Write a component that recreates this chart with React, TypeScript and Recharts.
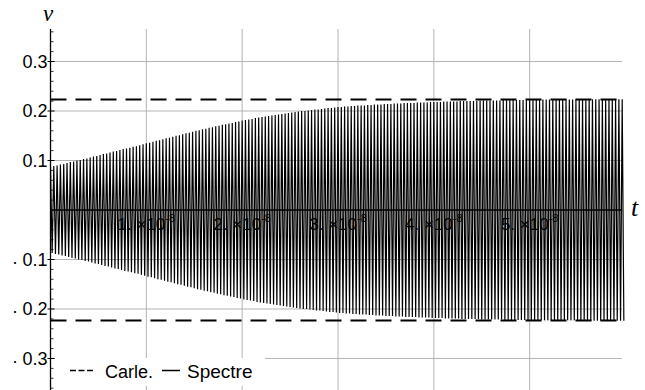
import React from 'react';
import { LineChart, Line, XAxis, YAxis, ReferenceLine, ReferenceDot, Legend } from 'recharts';

// time unit of the x axis (s) and carrier cycles per unit
const T_UNIT = 1e-8;
const CYCLES_PER_UNIT = 29;

// peak amplitude of each carrier cycle of "Spectre" (one row per 1e-8 s)
const spectreAmplitude = [
  0.087, 0.089, 0.090, 0.092, 0.093, 0.095, 0.097, 0.098, 0.100, 0.101, 0.103, 0.104, 0.106, 0.108, 0.109,
  0.111, 0.113, 0.114, 0.116, 0.118, 0.119, 0.121, 0.123, 0.124, 0.126, 0.128, 0.129, 0.131, 0.133,
  0.135, 0.136, 0.138, 0.140, 0.141, 0.143, 0.145, 0.146, 0.148, 0.150, 0.151, 0.153, 0.155, 0.156, 0.158,
  0.160, 0.161, 0.163, 0.164, 0.166, 0.167, 0.169, 0.170, 0.172, 0.173, 0.175, 0.176, 0.178, 0.179,
  0.181, 0.182, 0.183, 0.184, 0.186, 0.187, 0.188, 0.189, 0.190, 0.191, 0.192, 0.193, 0.194, 0.195, 0.196,
  0.197, 0.198, 0.199, 0.200, 0.200, 0.201, 0.202, 0.203, 0.203, 0.204, 0.205, 0.206, 0.206, 0.207,
  0.208, 0.208, 0.209, 0.209, 0.210, 0.210, 0.211, 0.211, 0.211, 0.212, 0.212, 0.213, 0.213, 0.213, 0.214,
  0.214, 0.214, 0.215, 0.215, 0.215, 0.216, 0.216, 0.216, 0.216, 0.217, 0.217, 0.217, 0.217, 0.218,
  0.218, 0.218, 0.218, 0.219, 0.219, 0.219, 0.219, 0.219, 0.220, 0.220, 0.220, 0.220, 0.220, 0.220, 0.221,
  0.221, 0.221, 0.221, 0.221, 0.221, 0.221, 0.222, 0.222, 0.222, 0.222, 0.222, 0.222, 0.222, 0.222,
  0.222, 0.222, 0.222, 0.223, 0.223, 0.223, 0.223, 0.223, 0.223, 0.223, 0.223, 0.223, 0.223, 0.223, 0.223,
  0.224, 0.224, 0.224, 0.224, 0.224, 0.224, 0.224, 0.224, 0.224, 0.224, 0.224, 0.224, 0.224, 0.224,
];

// "Carle." bound (±)
const carleLevel = 0.2235;

const seriesNames = ['Carle.', 'Spectre'];

const xEnd = 6e-8;
const gridEnd = 5.965e-8;
const yLimit = 0.3657;

const xMajorTicks = [1e-8, 2e-8, 3e-8, 4e-8, 5e-8];
const xTickMantissa = ['1.', '2.', '3.', '4.', '5.'];
const xTickExponent = '-8';

const yMajorTicks = [0.3, 0.2, 0.1, -0.1, -0.2, -0.3];
const yTickLabels = ['0.3', '0.2', '0.1', '-0.1', '-0.2', '-0.3'];
const yAllTicks = [
  0.36, 0.34, 0.32, 0.3, 0.28, 0.26, 0.24, 0.22, 0.2, 0.18, 0.16, 0.14, 0.12, 0.1, 0.08, 0.06, 0.04, 0.02,
  -0.02, -0.04, -0.06, -0.08, -0.1, -0.12, -0.14, -0.16, -0.18, -0.2, -0.22, -0.24, -0.26, -0.28, -0.3,
  -0.32, -0.34, -0.36,
];

const period = T_UNIT / CYCLES_PER_UNIT;
const spectreData = spectreAmplitude.flatMap((a, i) => [
  { t: i * period, v: a },
  { t: (i + 0.5) * period, v: -a },
]);
const carleUpper = [
  { t: 0, v: carleLevel },
  { t: xEnd, v: carleLevel },
];
const carleLower = [
  { t: 0, v: -carleLevel },
  { t: xEnd, v: -carleLevel },
];

const SANS = '"Liberation Sans", Arial, Helvetica, sans-serif';
const SERIF = '"Liberation Serif", "Times New Roman", serif';
const GRID = '#b4b4b4';

const YTick = (props: any) => {
  const { x, y, payload } = props;
  const v = payload.value;
  const idx = yMajorTicks.findIndex((m) => Math.abs(m - v) < 1e-9);
  if (idx < 0) {
    return <line x1={x} x2={x + 3} y1={y} y2={y} stroke="#000" strokeWidth={0.8} />;
  }
  const label = yTickLabels[idx];
  const neg = label.startsWith('-');
  return (
    <g>
      <line x1={x - 3} x2={x + 4} y1={y} y2={y} stroke="#000" strokeWidth={1} />
      <text
        x={x - 3}
        y={y + 6.3}
        textAnchor="end"
        fontFamily={SANS}
        fontSize={18}
        fill="#000"
        style={{ whiteSpace: 'pre' }}
      >
        {neg ? (
          <>
            <tspan dy={-2}>.</tspan>
            <tspan dy={2}>{' ' + label.slice(1)}</tspan>
          </>
        ) : (
          label
        )}
      </text>
    </g>
  );
};

const makeXLabel = (idx: number) => (props: any) => {
  const vb = props.viewBox || {};
  const cx = vb.x;
  const cy = vb.y;
  return (
    <text
      x={cx}
      y={cy + 20}
      textAnchor="middle"
      fontFamily={SANS}
      fontSize={17}
      fill="#000"
      style={{ whiteSpace: 'pre' }}
    >
      {xTickMantissa[idx] + ' \u00d710'}
      <tspan dy={-8} fontSize={11}>
        {xTickExponent}
      </tspan>
    </text>
  );
};

const vLabel = (props: any) => {
  const vb = props.viewBox || {};
  return (
    <text x={vb.x - 2.5} y={vb.y - 8} textAnchor="middle" fontFamily={SERIF} fontStyle="italic" fontSize={23} fill="#000">
      v
    </text>
  );
};

const tLabel = (props: any) => {
  const vb = props.viewBox || {};
  return (
    <text x={vb.x + 9} y={vb.y + 6} textAnchor="middle" fontFamily={SERIF} fontStyle="italic" fontSize={26} fill="#000">
      t
    </text>
  );
};

const renderLegend = () => (
  <svg width={210} height={28} style={{ display: 'block', background: '#fff' }}>
    <line x1={15} x2={38} y1={12.5} y2={12.5} stroke="#000" strokeWidth={1.3} strokeDasharray="6 2.5" />
    <text x={50} y={20} fontFamily={SANS} fontSize={18} fill="#000">
      {seriesNames[0]}
    </text>
    <line x1={107} x2={125} y1={12.5} y2={12.5} stroke="#000" strokeWidth={1.5} />
    <text x={132} y={20} fontFamily={SANS} fontSize={19} fill="#000">
      {seriesNames[1]}
    </text>
  </svg>
);

export default function App() {
  return (
    <div style={{ position: 'absolute', left: 0, top: 0, width: 645, height: 390, overflow: 'hidden', background: '#fff' }}>
      <LineChart width={645} height={392} margin={{ top: 29, right: 19.5, bottom: 1, left: 0 }} data={spectreData}>
        <XAxis dataKey="t" type="number" domain={[0, xEnd]} hide allowDataOverflow />
        <YAxis
          type="number"
          domain={[-yLimit, yLimit]}
          ticks={yAllTicks}
          interval={0}
          width={50.5}
          tickSize={0}
          tickMargin={0}
          tickLine={false}
          axisLine={{ stroke: '#000', strokeWidth: 1.3 }}
          tick={<YTick />}
          allowDataOverflow
        />
        {yMajorTicks.map((v) => (
          <ReferenceLine
            key={'h' + v}
            segment={[
              { x: 0, y: v },
              { x: gridEnd, y: v },
            ]}
            stroke={GRID}
            strokeWidth={1}
          />
        ))}
        {xMajorTicks.map((m) => (
          <ReferenceLine key={'v' + m} x={m} stroke={GRID} strokeWidth={1} />
        ))}
        <Line
          dataKey="v"
          name={seriesNames[1]}
          stroke="#000"
          strokeWidth={1.2}
          dot={false}
          activeDot={false}
          isAnimationActive={false}
        />
        <Line
          data={carleUpper}
          dataKey="v"
          name={seriesNames[0]}
          stroke="#000"
          strokeWidth={2}
          strokeDasharray="16 9"
          dot={false}
          activeDot={false}
          isAnimationActive={false}
        />
        <Line
          data={carleLower}
          dataKey="v"
          name={seriesNames[0] + ' '}
          stroke="#000"
          strokeWidth={2}
          strokeDasharray="16 9"
          dot={false}
          activeDot={false}
          isAnimationActive={false}
        />
        <ReferenceLine
          segment={[
            { x: 0, y: 0 },
            { x: gridEnd, y: 0 },
          ]}
          stroke="#000"
          strokeWidth={1.3}
        />
        {xMajorTicks.map((m, i) => (
          <ReferenceDot key={'xl' + m} x={m} y={0} r={0} fill="none" stroke="none" label={makeXLabel(i)} />
        ))}
        <ReferenceDot x={0} y={yLimit} r={0} fill="none" stroke="none" label={vLabel} ifOverflow="visible" />
        <ReferenceDot x={xEnd} y={0} r={0} fill="none" stroke="none" label={tLabel} ifOverflow="visible" />
        <Legend
          verticalAlign="middle"
          align="center"
          layout="horizontal"
          content={renderLegend}
          wrapperStyle={{ left: 55, top: 358, width: 210, height: 28, background: '#fff' }}
        />
      </LineChart>
    </div>
  );
}
